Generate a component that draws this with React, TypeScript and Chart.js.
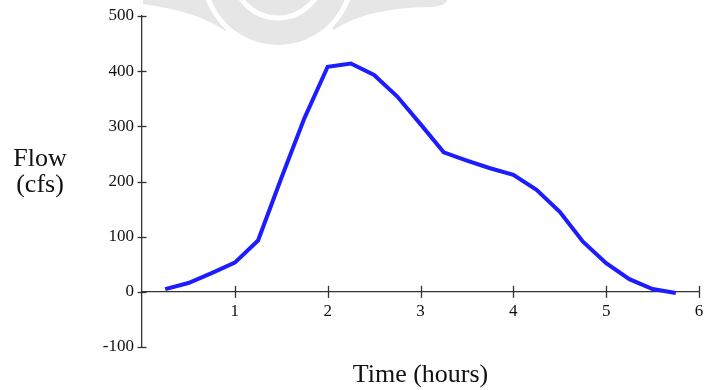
import React, { useEffect, useRef } from "react";
import { Chart, registerables } from "chart.js";

Chart.register(...registerables);

const hours = [0.25, 0.5, 0.75, 1.0, 1.25, 1.5, 1.75, 2.0, 2.25, 2.5, 2.75, 3.0, 3.25, 3.5, 3.75, 4.0, 4.25, 4.5, 4.75, 5.0, 5.25, 5.5, 5.75];
const flow = [5, 16, 34, 53, 93, 206, 315, 408, 414, 393, 354, 304, 253, 238, 224, 212, 185, 145, 91, 52, 23, 5, -2];
const xTickValues = [1, 2, 3, 4, 5, 6];
const yTickValues = [-100, 0, 100, 200, 300, 400, 500];
const yTitleLines = ["Flow", "(cfs)"];
const xTitle = "Time (hours)";

const AXIS_COLOR = "#333333";
const WATERMARK = "#e6e6e6";
const FONT = '"Liberation Serif", "Times New Roman", serif';

export default function App() {
  const canvasRef = useRef<HTMLCanvasElement | null>(null);

  useEffect(() => {
    document.body.style.margin = "0";
    const canvas = canvasRef.current;
    if (!canvas) return;

    const watermarkPlugin = {
      id: "watermark",
      beforeDraw(chart: any) {
        const ctx = chart.ctx as CanvasRenderingContext2D;
        ctx.save();
        ctx.fillStyle = WATERMARK;
        // left wing
        ctx.beginPath();
        ctx.moveTo(143, 0);
        ctx.lineTo(260, 0);
        ctx.lineTo(225, 31);
        ctx.quadraticCurveTo(200, 12, 143, 4);
        ctx.closePath();
        ctx.fill();
        // right wing
        ctx.beginPath();
        ctx.moveTo(300, 0);
        ctx.lineTo(447, 0);
        ctx.quadraticCurveTo(446, 6, 430, 7);
        ctx.quadraticCurveTo(365, 8, 334, 30);
        ctx.closePath();
        ctx.fill();
        // white gap around disk
        ctx.fillStyle = "#ffffff";
        ctx.beginPath();
        ctx.arc(278, -27, 77, 0, Math.PI * 2);
        ctx.fill();
        // disk
        ctx.fillStyle = WATERMARK;
        ctx.beginPath();
        ctx.arc(278, -27, 72, 0, Math.PI * 2);
        ctx.fill();
        // inner white ring
        ctx.strokeStyle = "#ffffff";
        ctx.lineWidth = 5;
        ctx.beginPath();
        ctx.arc(278, -27, 45, 0, Math.PI * 2);
        ctx.stroke();
        ctx.restore();
      },
    };

    const decorPlugin = {
      id: "decor",
      afterDraw(chart: any) {
        const ctx = chart.ctx as CanvasRenderingContext2D;
        const xs = chart.scales.x;
        const ys = chart.scales.y;
        const axisX = ys.right;
        const axisY = ys.getPixelForValue(0);
        ctx.save();
        ctx.strokeStyle = AXIS_COLOR;
        ctx.lineWidth = 1.3;
        for (const v of yTickValues) {
          const py = Math.round(ys.getPixelForValue(v)) + 0.5;
          ctx.beginPath();
          ctx.moveTo(axisX - 4.5, py);
          ctx.lineTo(axisX + 4.5, py);
          ctx.stroke();
        }
        for (const v of xTickValues) {
          const px = Math.round(xs.getPixelForValue(v)) + 0.5;
          ctx.beginPath();
          ctx.moveTo(px, axisY - 6);
          ctx.lineTo(px, axisY + 6);
          ctx.stroke();
        }
        ctx.fillStyle = "#111111";
        ctx.font = `26px ${FONT}`;
        ctx.textAlign = "center";
        ctx.textBaseline = "alphabetic";
        ctx.fillText(yTitleLines[0], 40, 166);
        ctx.fillText(yTitleLines[1], 40, 192);
        ctx.fillText(xTitle, xs.getPixelForValue(3), 382);
        ctx.restore();
      },
    };

    const chart = new Chart(canvas, {
      type: "line",
      data: {
        datasets: [
          {
            data: hours.map((h, i) => ({ x: h, y: flow[i] })),
            borderColor: "#1c1cff",
            borderWidth: 4,
            pointRadius: 0,
            tension: 0,
            fill: false,
          },
        ],
      },
      options: {
        animation: false,
        responsive: false,
        maintainAspectRatio: false,
        layout: { padding: { top: 16, right: 9, bottom: 43, left: 0 } },
        plugins: {
          legend: { display: false },
          tooltip: { enabled: false },
        },
        scales: {
          x: {
            type: "linear",
            position: { y: 0 } as any,
            min: 0,
            max: 6,
            afterBuildTicks: (scale: any) => {
              scale.ticks = xTickValues.map((v) => ({ value: v }));
            },
            grid: { display: false, drawTicks: true, tickLength: 6 },
            border: { display: true, color: AXIS_COLOR, width: 1.3 },
            ticks: {
              color: "#111111",
              padding: 3,
              maxRotation: 0,
              font: { family: FONT, size: 17 },
            },
          },
          y: {
            type: "linear",
            position: "left",
            min: -100,
            max: 500,
            afterBuildTicks: (scale: any) => {
              scale.ticks = yTickValues.map((v) => ({ value: v }));
            },
            afterFit: (scale: any) => {
              scale.width = 142;
            },
            grid: { display: false, drawTicks: true, tickLength: 4 },
            border: { display: true, color: AXIS_COLOR, width: 1.3 },
            ticks: {
              color: "#111111",
              padding: 4,
              font: { family: FONT, size: 17 },
            },
          },
        },
      },
      plugins: [watermarkPlugin, decorPlugin],
    } as any);

    return () => {
      chart.destroy();
    };
  }, []);

  return (
    <div style={{ width: 708, height: 390, position: "relative", background: "#ffffff" }}>
      <canvas ref={canvasRef} width={708} height={390} style={{ display: "block" }} />
    </div>
  );
}
